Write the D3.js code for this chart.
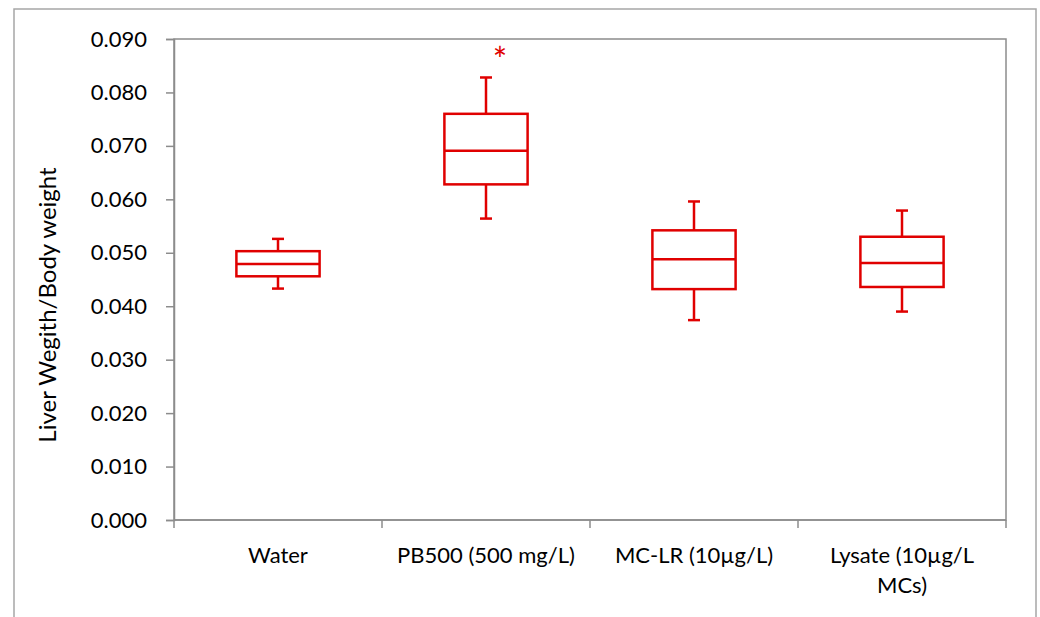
<!DOCTYPE html>
<html>
<head>
<meta charset="utf-8">
<script src="https://cdn.jsdelivr.net/npm/d3@7"></script>
<style>
  body { margin: 0; background: #fff; overflow: hidden; }
  svg { display: block; font-family: Lato, "Open Sans", sans-serif; }
</style>
</head>
<body>
<svg width="1040" height="617"></svg>
<script>
// groups + box stats
let categories = ['Water', 'PB500 (500 mg/L)', 'MC-LR (10µg/L)', 'Lysate (10µg/L MCs)']
let mins    = [0.0433, 0.0564, 0.0374, 0.0390]
let q1s     = [0.0456, 0.0628, 0.0432, 0.0436]
let medians = [0.0479, 0.0691, 0.0488, 0.0481]
let q3s     = [0.0503, 0.0760, 0.0542, 0.0530]
let maxs    = [0.0526, 0.0828, 0.0596, 0.0579]
let stars   = ['', '*', '', '']
let yTicks  = [0, 0.01, 0.02, 0.03, 0.04, 0.05, 0.06, 0.07, 0.08, 0.09]

let red = '#e00000'
let grey = '#8c8c8c'

let svg = d3.select('svg')

// outer chart frame
svg.append('rect')
    .attr('x', 14).attr('y', 9)
    .attr('width', 1022).attr('height', 640)
    .attr('fill', 'none')
    .attr('stroke', '#a6a6a6')
    .attr('stroke-width', 1.5)

let plotL = 174, plotR = 1006, plotT = 39, plotB = 520

let x = d3.scaleBand().domain(categories).range([plotL, plotR])
let y = d3.scaleLinear().domain([0, 0.09]).range([plotB, plotT])

// plot area border
svg.append('rect')
    .attr('x', plotL).attr('y', plotT)
    .attr('width', plotR - plotL).attr('height', plotB - plotT)
    .attr('fill', 'none')
    .attr('stroke', grey)
    .attr('stroke-width', 1.5)

// y axis
let yAxis = svg.append('g')
    .attr('transform', `translate(${plotL},0)`)
    .call(d3.axisLeft(y).tickValues(yTicks).tickFormat(d3.format('.3f')).tickSize(8).tickPadding(19))
yAxis.select('.domain').attr('stroke', grey).attr('stroke-width', 1.5)
yAxis.selectAll('.tick line').attr('stroke', grey).attr('stroke-width', 1.5)
yAxis.selectAll('.tick text')
    .attr('font-size', 22).attr('font-family', 'Lato, sans-serif').attr('fill', '#000')

// x axis: ticks on band edges, labels centered
let xAxis = svg.append('g').attr('transform', `translate(0,${plotB})`)
xAxis.append('line')
    .attr('x1', plotL).attr('x2', plotR)
    .attr('stroke', grey).attr('stroke-width', 1.5)
let edges = categories.map(c => x(c)).concat([plotR])
xAxis.selectAll('line.tk').data(edges).enter().append('line')
    .attr('class', 'tk')
    .attr('x1', d => d).attr('x2', d => d)
    .attr('y1', 0).attr('y2', 8)
    .attr('stroke', grey).attr('stroke-width', 1.5)

let labelLines = {
    'Lysate (10µg/L MCs)': ['Lysate (10µg/L', 'MCs)']
}
categories.forEach(c => {
    let lines = labelLines[c] || [c]
    let t = xAxis.append('text')
        .attr('x', x(c) + x.bandwidth() / 2)
        .attr('y', 43)
        .attr('text-anchor', 'middle')
        .attr('font-size', 22)
        .attr('fill', '#000')
    lines.forEach((l, i) => {
        t.append('tspan')
            .attr('x', x(c) + x.bandwidth() / 2)
            .attr('dy', i === 0 ? 0 : 30)
            .text(l)
    })
})

// y title
svg.append('text')
    .attr('transform', `translate(56,305) rotate(-90)`)
    .attr('text-anchor', 'middle')
    .attr('font-size', 24)
    .attr('fill', '#000')
    .text('Liver Wegith/Body weight')

// boxes
let boxW = x.bandwidth() * 0.4
let capW = 12
let g = svg.append('g')
    .attr('stroke', red)
    .attr('stroke-width', 2.5)
    .attr('fill', 'none')

categories.forEach((c, i) => {
    let cx = x(c) + x.bandwidth() / 2
    // whiskers
    g.append('line').attr('x1', cx).attr('x2', cx).attr('y1', y(maxs[i])).attr('y2', y(q3s[i]))
    g.append('line').attr('x1', cx).attr('x2', cx).attr('y1', y(q1s[i])).attr('y2', y(mins[i]))
    g.append('line').attr('x1', cx - capW / 2).attr('x2', cx + capW / 2).attr('y1', y(maxs[i])).attr('y2', y(maxs[i]))
    g.append('line').attr('x1', cx - capW / 2).attr('x2', cx + capW / 2).attr('y1', y(mins[i])).attr('y2', y(mins[i]))
    // box + median
    g.append('rect')
        .attr('x', cx - boxW / 2).attr('y', y(q3s[i]))
        .attr('width', boxW).attr('height', y(q1s[i]) - y(q3s[i]))
    g.append('line')
        .attr('x1', cx - boxW / 2).attr('x2', cx + boxW / 2)
        .attr('y1', y(medians[i])).attr('y2', y(medians[i]))
    if (stars[i]) {
        svg.append('text')
            .attr('x', cx + 14)
            .attr('y', y(maxs[i]) - 5)
            .attr('text-anchor', 'middle')
            .attr('font-size', 34)
            .attr('fill', red)
            .text(stars[i])
    }
})
</script>
</body>
</html>
